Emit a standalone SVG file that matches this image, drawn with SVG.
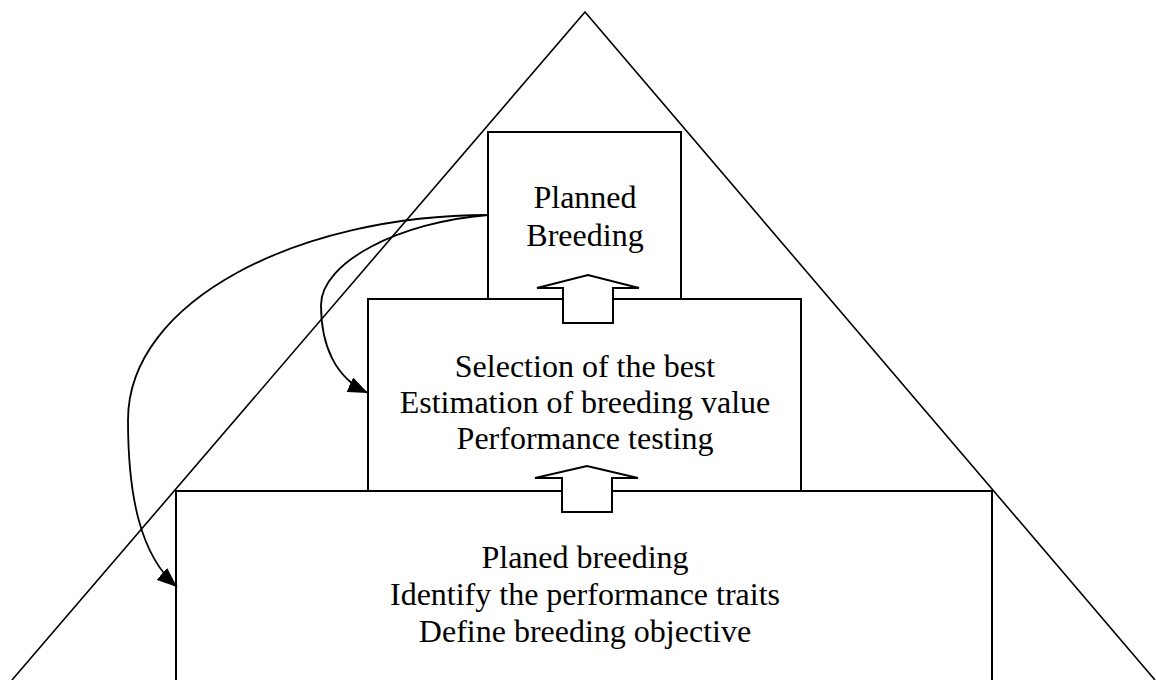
<svg xmlns="http://www.w3.org/2000/svg" width="1156" height="680" viewBox="0 0 1156 680">
<style>
.line{fill:none;stroke:#000;stroke-width:1.6}
.box{fill:#fff;stroke:#000;stroke-width:2}
.blk{fill:#fff;stroke:#000;stroke-width:2;stroke-linejoin:miter}
.conn{fill:none;stroke:#000;stroke-width:1.8}
text{font-family:"Liberation Serif","Times New Roman",serif;font-size:32px;fill:#000;text-anchor:middle}
</style>
<defs>
<marker id="ah" viewBox="0 0 20 16" refX="20" refY="8" markerWidth="20" markerHeight="16" markerUnits="userSpaceOnUse" orient="auto">
<path d="M0,0 L20,8 L0,16 z" fill="#000"/>
</marker>
</defs>
<rect width="1156" height="680" fill="#fff"/>
<g id="pyramid">
<path class="line" d="M12,680 L585,12 L1155,680"/>
</g>
<g id="base">
<path class="box" d="M176,681 V491 H992 V681"/>
<text x="585" y="568">Planed breeding</text>
<text x="585" y="605">Identify the performance traits</text>
<text x="585" y="642">Define breeding objective</text>
</g>
<g id="middle">
<rect class="box" x="368" y="299" width="433" height="192"/>
<text x="585" y="377">Selection of the best</text>
<text x="585" y="413">Estimation of breeding value</text>
<text x="585" y="449">Performance testing</text>
</g>
<g id="top">
<rect class="box" x="488" y="132" width="193" height="167"/>
<text x="585" y="208">Planned</text>
<text x="585" y="246">Breeding</text>
</g>
<g id="block-arrows">
<polygon class="blk" points="563,323 563,288 537,288 588,275 639,288 613,288 613,323"/>
<polygon class="blk" points="562,512 562,478 535,478 587,466 638,478 612,478 612,512"/>
</g>
<g id="connectors">
<path class="conn" marker-end="url(#ah)" d="M488,215 C400,222 321,262 321,305 C321,345 335,378 368,393"/>
<path class="conn" marker-end="url(#ah)" d="M488,215 C300,215 128,300 128,420 C128,495 140,555 177,587"/>
</g>
</svg>
